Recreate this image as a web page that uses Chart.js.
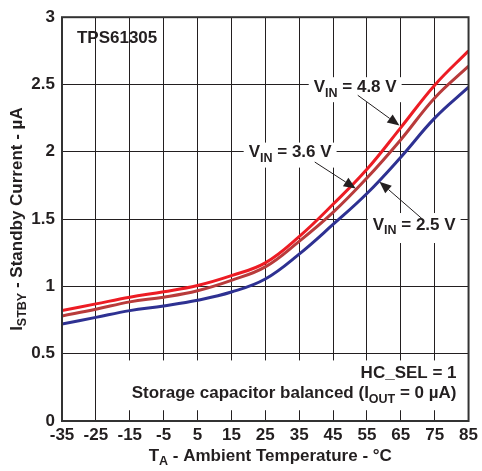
<!DOCTYPE html>
<html><head><meta charset="utf-8">
<script src="https://cdn.jsdelivr.net/npm/chart.js@4/dist/chart.umd.min.js"></script>
<style>html,body{margin:0;padding:0;background:#fff;}#wrap{width:482px;height:471px;}</style>
</head><body><div id="wrap"><canvas id="c" width="482" height="471"></canvas></div>
<script>
const temps = [-35,-25,-15,-5,5,15,25,35,45,55,65,75,85];
const vin48 = [0.82,0.87,0.92,0.96,1.007,1.08,1.175,1.37,1.61,1.87,2.18,2.495,2.75];
const vin36 = [0.78,0.83,0.885,0.92,0.968,1.045,1.145,1.335,1.55,1.805,2.09,2.40,2.636];
const vin25 = [0.72,0.77,0.82,0.855,0.897,0.958,1.055,1.24,1.46,1.69,1.96,2.25,2.48];
const xTickValues = [-35,-25,-15,-5,5,15,25,35,45,55,65,75,85];
const xTickLabels = ['-35','-25','-15','-5','5','15','25','35','45','55','65','75','85'];
const yTickValues = [0,0.5,1,1.5,2,2.5,3];
const yTickLabels = ['0','0.5','1','1.5','2','2.5','3'];
const seriesNames = ['VIN = 4.8 V','VIN = 3.6 V','VIN = 2.5 V'];

const INK = '#231f20';
const FAM = '"Liberation Sans", Arial, sans-serif';
const FONT = 'bold 17px ' + FAM;
const SUBFONT = 'bold 12.5px ' + FAM;

function pts(arr){ return temps.map((t,i)=>({x:t,y:arr[i]})); }

function measureParts(ctx, parts){
  let w=0; parts.forEach(p=>{ctx.font=p[1]?SUBFONT:FONT; w+=ctx.measureText(p[0]).width;}); return w;
}
function startX(ctx, parts, x, align){
  const w = measureParts(ctx, parts);
  return align==='right' ? x-w : (align==='center' ? x-w/2 : x);
}
function drawParts(ctx, parts, x, y, align){
  let cx = startX(ctx, parts, x, align);
  ctx.textBaseline='middle'; ctx.textAlign='left'; ctx.fillStyle=INK;
  parts.forEach(p=>{ ctx.font=p[1]?SUBFONT:FONT; ctx.fillText(p[0], cx, p[1]? y+6 : y); cx += ctx.measureText(p[0]).width; });
}
function arrow(ctx, x1,y1,x2,y2){
  ctx.save(); ctx.strokeStyle=INK; ctx.fillStyle=INK; ctx.lineWidth=1;
  const a=Math.atan2(y2-y1,x2-x1), L=12, W=5;
  const bx=x2-L*Math.cos(a), by=y2-L*Math.sin(a);
  ctx.beginPath(); ctx.moveTo(x1,y1); ctx.lineTo(bx,by); ctx.stroke();
  ctx.beginPath(); ctx.moveTo(x2,y2);
  ctx.lineTo(bx+W*Math.sin(a), by-W*Math.cos(a));
  ctx.lineTo(bx-W*Math.sin(a), by+W*Math.cos(a)); ctx.closePath(); ctx.fill();
  ctx.restore();
}

const P48 = [['V',0],['IN',1],[' = 4.8 V',0]];
const P36 = [['V',0],['IN',1],[' = 3.6 V',0]];
const P25 = [['V',0],['IN',1],[' = 2.5 V',0]];
const PHC = [['HC_SEL = 1',0]];
const PST = [['Storage capacitor balanced (I',0],['OUT',1],[' = 0 \u00b5A)',0]];

const annot = {
  id:'annot',
  beforeDatasetsDraw(chart){
    const ctx=chart.ctx, xs=chart.scales.x, ys=chart.scales.y;
    const X=t=>xs.getPixelForValue(t), Y=v=>ys.getPixelForValue(v);
    ctx.save(); ctx.fillStyle='#fff';
    const tbox=(parts,t,v,align,padT,padB)=>{
      const x0=startX(ctx,parts,X(t),align), w=measureParts(ctx,parts), y=Y(v);
      ctx.fillStyle='#fff'; ctx.fillRect(x0-5, y-padT, w+10, padT+padB);
    };
    tbox(P48, 39.3, 2.48, 'left', 10, 15);
    tbox(P36, 20.1, 1.994, 'left', 10, 15);
    tbox(P25, 56.7, 1.456, 'left', 12, 18);
    const x0=startX(ctx,PST,X(81.45),'right');
    ctx.fillRect(x0-6, Y(0.45), X(81.45)+5-(x0-6), Y(0.08)-Y(0.45));
    ctx.restore();
  },
  afterDatasetsDraw(chart){
    const ctx=chart.ctx, xs=chart.scales.x, ys=chart.scales.y, ca=chart.chartArea;
    const X=t=>xs.getPixelForValue(t), Y=v=>ys.getPixelForValue(v);
    ctx.save();
    drawParts(ctx, [['TPS61305',0]], X(-30.6), Y(2.846), 'left');
    drawParts(ctx, P48, X(39.3), Y(2.48), 'left');
    drawParts(ctx, P36, X(20.1), Y(1.994), 'left');
    drawParts(ctx, P25, X(56.7), Y(1.456), 'left');
    arrow(ctx, X(52.3),Y(2.42), X(64.6),Y(2.195));
    arrow(ctx, X(39.6),Y(1.924), X(51.7),Y(1.727));
    arrow(ctx, X(71.4),Y(1.50), X(58.7),Y(1.778));
    drawParts(ctx, PHC, X(81.45), Y(0.351), 'right');
    drawParts(ctx, PST, X(81.45), Y(0.205), 'right');
    ctx.strokeStyle='#333'; ctx.lineWidth=2;
    ctx.strokeRect(ca.left, ca.top, ca.right-ca.left, ca.bottom-ca.top);
    drawParts(ctx, [['T',0],['A',1],[' - Ambient Temperature - \u00b0C',0]], (ca.left+ca.right)/2+5, 456, 'center');
    ctx.translate(17, (ca.top+ca.bottom)/2); ctx.rotate(-Math.PI/2);
    drawParts(ctx, [['I',0],['STBY',1],[' - Standby Current - \u00b5A',0]], 0, 0, 'center');
    ctx.restore();
  }
};

new Chart(document.getElementById('c'), {
  type:'line',
  data:{ datasets:[
    {label:seriesNames[0], data:pts(vin48), borderColor:'#ed1c24', borderWidth:3, pointRadius:0, tension:0.4, fill:false},
    {label:seriesNames[1], data:pts(vin36), borderColor:'#b83b3b', borderWidth:3, pointRadius:0, tension:0.4, fill:false},
    {label:seriesNames[2], data:pts(vin25), borderColor:'#2e3192', borderWidth:3, pointRadius:0, tension:0.4, fill:false}
  ]},
  options:{
    responsive:false, animation:false, devicePixelRatio:1,
    layout:{padding:{top:11,right:13,left:0,bottom:0}},
    plugins:{legend:{display:false}, tooltip:{enabled:false}},
    scales:{
      x:{type:'linear', min:-35, max:85,
         afterBuildTicks:s=>{s.ticks=xTickValues.map(v=>({value:v}));},
         afterFit:s=>{s.height=50;},
         grid:{color:INK, lineWidth:1, drawTicks:false},
         border:{display:false},
         ticks:{color:INK, font:{family:FAM, size:17, weight:'bold'}, padding:4, maxRotation:0, autoSkip:false,
                callback:(v)=>xTickLabels[xTickValues.indexOf(v)]}},
      y:{type:'linear', min:0, max:3,
         afterBuildTicks:s=>{s.ticks=yTickValues.map(v=>({value:v}));},
         afterFit:s=>{s.width=62;},
         grid:{color:INK, lineWidth:1, drawTicks:false},
         border:{display:false},
         ticks:{color:INK, font:{family:FAM, size:17, weight:'bold'}, padding:7, autoSkip:false,
                callback:(v)=>yTickLabels[yTickValues.indexOf(v)]}}
    }
  },
  plugins:[annot]
});
</script></body></html>
